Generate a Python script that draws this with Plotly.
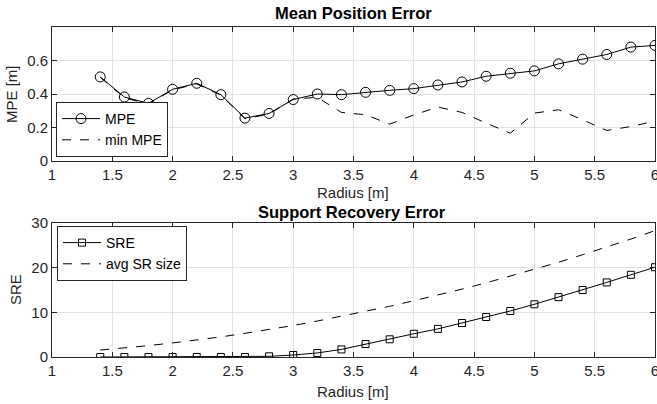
import plotly.graph_objects as go

radius = [1.4, 1.6, 1.8, 2.0, 2.2, 2.4, 2.6, 2.8, 3.0, 3.2, 3.4, 3.6,
          3.8, 4.0, 4.2, 4.4, 4.6, 4.8, 5.0, 5.2, 5.4, 5.6, 5.8, 6.0]
mpe = [0.502, 0.382, 0.344, 0.428, 0.464, 0.396, 0.256, 0.284, 0.367, 0.400, 0.396, 0.410,
       0.422, 0.432, 0.454, 0.472, 0.506, 0.524, 0.538, 0.580, 0.608, 0.636, 0.680, 0.690]
min_mpe = [0.500, 0.377, 0.340, 0.425, 0.460, 0.393, 0.252, 0.280, 0.370, 0.380, 0.290, 0.276,
           0.220, 0.275, 0.322, 0.290, 0.226, 0.166, 0.286, 0.306, 0.246, 0.182, 0.206, 0.238]
sre = [0.0, 0.0, 0.0, 0.0, 0.0, 0.0, 0.0, 0.15, 0.45, 0.9, 1.7, 2.9,
       3.96, 5.2, 6.3, 7.6, 8.95, 10.3, 11.8, 13.4, 15.0, 16.7, 18.4, 20.1]
avg_sr = [1.55, 2.0, 2.55, 3.15, 3.8, 4.5, 5.3, 6.15, 7.05, 8.05, 9.1, 10.2,
          11.35, 12.6, 13.85, 15.2, 16.6, 18.1, 19.6, 21.2, 22.9, 24.6, 26.4, 28.3]

x_ticks = [1, 1.5, 2, 2.5, 3, 3.5, 4, 4.5, 5, 5.5, 6]
y1_ticks = [0, 0.2, 0.4, 0.6, 0.8]
y1_labels = ["0", "0.2", "0.4", "0.6", ""]
y2_ticks = [0, 10, 20, 30]

FONT = "Liberation Sans, Arial, sans-serif"
AX = "#262626"
GRID = "#e3e3e3"

fig = go.Figure()
fig.add_trace(go.Scatter(x=radius, y=mpe, name="MPE", mode="lines+markers",
                         line=dict(color="black", width=1),
                         marker=dict(symbol="circle-open", size=10, color="black", line=dict(width=1)),
                         xaxis="x", yaxis="y", legend="legend"))
fig.add_trace(go.Scatter(x=radius, y=min_mpe, name="min MPE", mode="lines",
                         line=dict(color="black", width=1, dash="dash"),
                         xaxis="x", yaxis="y", legend="legend"))
fig.add_trace(go.Scatter(x=radius, y=sre, name="SRE", mode="lines+markers",
                         line=dict(color="black", width=1),
                         marker=dict(symbol="square-open", size=7, color="black", line=dict(width=1)),
                         xaxis="x2", yaxis="y2", legend="legend2"))
fig.add_trace(go.Scatter(x=radius, y=avg_sr, name="avg SR size", mode="lines",
                         line=dict(color="black", width=1, dash="dash"),
                         xaxis="x2", yaxis="y2", legend="legend2"))

axis_common = dict(showline=True, linecolor=AX, linewidth=1, mirror="allticks",
                   ticks="inside", ticklen=5, tickcolor=AX, showgrid=True,
                   gridcolor=GRID, gridwidth=1, zeroline=False, automargin=False,
                   ticklabeloverflow="allow",
                   tickfont=dict(family=FONT, size=15, color=AX))

L, R, T, B = 52, 2, 27, 47
H = 404 - T - B
top_lo = (357 - 161) / H
bot_hi = (357 - 223) / H

legend_common = dict(xanchor="left", bordercolor=AX, borderwidth=1, bgcolor="white",
                     font=dict(family=FONT, size=14, color="black"), itemwidth=38,
                     tracegroupgap=0)

fig.update_layout(
    width=657, height=404,
    margin=dict(l=L, r=R, t=T, b=B, autoexpand=False),
    paper_bgcolor="white", plot_bgcolor="white",
    font=dict(family=FONT, color=AX),
    xaxis=dict(domain=[0, 1], anchor="y", range=[1, 6], tickvals=x_ticks, **axis_common),
    yaxis=dict(domain=[top_lo, 1], anchor="x", range=[0, 0.8], tickvals=y1_ticks,
               ticktext=y1_labels, **axis_common),
    xaxis2=dict(domain=[0, 1], anchor="y2", range=[1, 6], tickvals=x_ticks, **axis_common),
    yaxis2=dict(domain=[0, bot_hi], anchor="x2", range=[0, 30], tickvals=y2_ticks, **axis_common),
    legend=dict(x=(56 - L) / 603, y=(357 - 157) / H, yanchor="bottom", **legend_common),
    legend2=dict(x=(57 - L) / 603, y=(357 - 226) / H, yanchor="top", **legend_common),
    showlegend=True,
)

def ann(text, px, py, size=15, bold=False, angle=0):
    fig.add_annotation(text=f"<b>{text}</b>" if bold else text,
                       x=(px - L) / 603, y=(357 - py) / H, xref="paper", yref="paper",
                       showarrow=False, xanchor="center", yanchor="middle", textangle=angle,
                       font=dict(family=FONT, size=size, color="black" if bold else AX))

ann("Mean Position Error", 353, 13, size=16.5, bold=True)
ann("Support Recovery Error", 352, 212, size=16.5, bold=True)
ann("Radius [m]", 353, 192)
ann("Radius [m]", 353, 392)
ann("MPE [m]", 12, 94, angle=-90)
ann("SRE", 15, 290, angle=-90)

fig.write_html("out.html", config={"displayModeBar": False},
               post_script="document.body.style.margin='0';document.body.style.overflow='hidden';")
